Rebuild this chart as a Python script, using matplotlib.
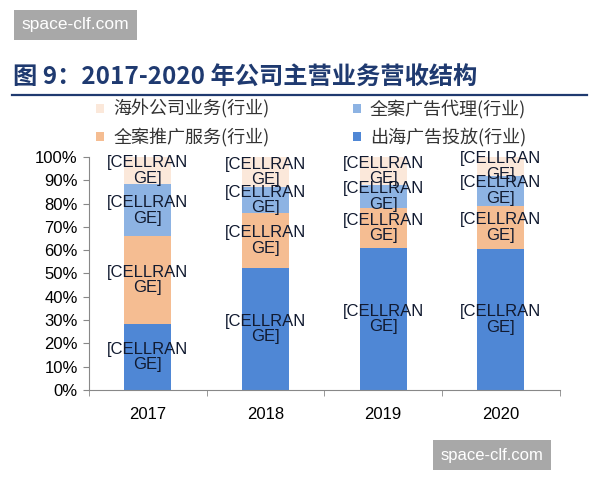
import numpy as np
import matplotlib
matplotlib.use("Agg")
import matplotlib.pyplot as plt
from matplotlib.patches import Patch
from matplotlib.lines import Line2D

plt.rcParams['font.family'] = ['Liberation Sans', 'Noto Sans CJK SC', 'DejaVu Sans']

years = ['2017', '2018', '2019', '2020']
chuhai = [28.3, 52.5, 61.0, 60.5]      # 出海广告投放
tuiguang = [37.7, 23.5, 17.0, 18.5]    # 全案推广服务
daili = [22.2, 11.0, 10.0, 13.0]       # 全案广告代理
haiwai = [11.8, 13.0, 12.0, 8.0]       # 海外公司业务

series = [
    ('出海广告投放(行业)', chuhai, '#4F87D5'),
    ('全案推广服务(行业)', tuiguang, '#F5BD92'),
    ('全案广告代理(行业)', daili, '#8DB3E3'),
    ('海外公司业务(行业)', haiwai, '#FBE8DA'),
]

fig = plt.figure(figsize=(6, 4.8), dpi=100)
ax = fig.add_axes([0.148, 0.1875, 0.785, 0.4855])

x = np.arange(len(years))
bottom = np.zeros(len(years))
for name, vals, col in series:
    vals = np.array(vals)
    ax.bar(x, vals, width=0.4, bottom=bottom, color=col, label=name, zorder=2)
    for xi, b, v in zip(x, bottom, vals):
        ax.text(xi, b + v / 2, '[CELLRAN\nGE]', ha='center', va='center',
                multialignment='center', fontsize=12, color='#111a30',
                linespacing=1.05, zorder=3)
    bottom += vals

ax.set_xlim(-0.5, 3.5)
ax.set_ylim(0, 100)
ax.set_yticks(np.arange(0, 101, 10))
ax.set_yticklabels([f'{v}%' for v in range(0, 101, 10)], fontsize=12)
ax.set_xticks(x)
ax.set_xticklabels(years, fontsize=12)
ax.set_xticks(np.arange(-0.5, 3.6, 1), minor=True)
ax.tick_params(axis='x', which='major', length=0, pad=12)
ax.tick_params(axis='x', which='minor', length=4, color='#888888', direction='out')
ax.tick_params(axis='y', length=4, color='#888888', direction='out', pad=4)
for s in ['top', 'right']:
    ax.spines[s].set_visible(False)
for s in ['left', 'bottom']:
    ax.spines[s].set_color('#888888')

# legend (order as in the picture: column-wise)
lookup = {n: c for n, v, c in series}
order = ['海外公司业务(行业)', '全案推广服务(行业)', '全案广告代理(行业)', '出海广告投放(行业)']
handles = [Patch(facecolor=lookup[n], edgecolor='none') for n in order]
fig.legend(handles, order, ncol=2, loc='upper left', bbox_to_anchor=(0.133, 0.826),
           frameon=False, prop={'family': ['Noto Sans CJK SC'], 'size': 13},
           handlelength=0.45, handleheight=0.45, handletextpad=0.5,
           columnspacing=4.6, labelspacing=0.5, labelcolor='#333333')

# title and rule
fig.text(0.022, 0.837, '图 9：2017-2020 年公司主营业务营收结构', fontsize=17.5,
         fontweight='bold', color='#1F3A70', family=['Noto Sans CJK SC'], va='center')
fig.add_artist(Line2D([0.02, 0.978], [0.803, 0.803], color='#1F3A70', lw=1.6))

# watermarks
fig.text(0.126, 0.948, 'space-clf.com', fontsize=12.5, color='white', ha='center', va='center',
         bbox=dict(boxstyle='square,pad=0.45', facecolor='#A8A8A8', edgecolor='none'))
fig.text(0.82, 0.052, 'space-clf.com', fontsize=12, color='white', ha='center', va='center',
         bbox=dict(boxstyle='square,pad=0.45', facecolor='#A8A8A8', edgecolor='none'))

fig.savefig('out.png', dpi=100)
